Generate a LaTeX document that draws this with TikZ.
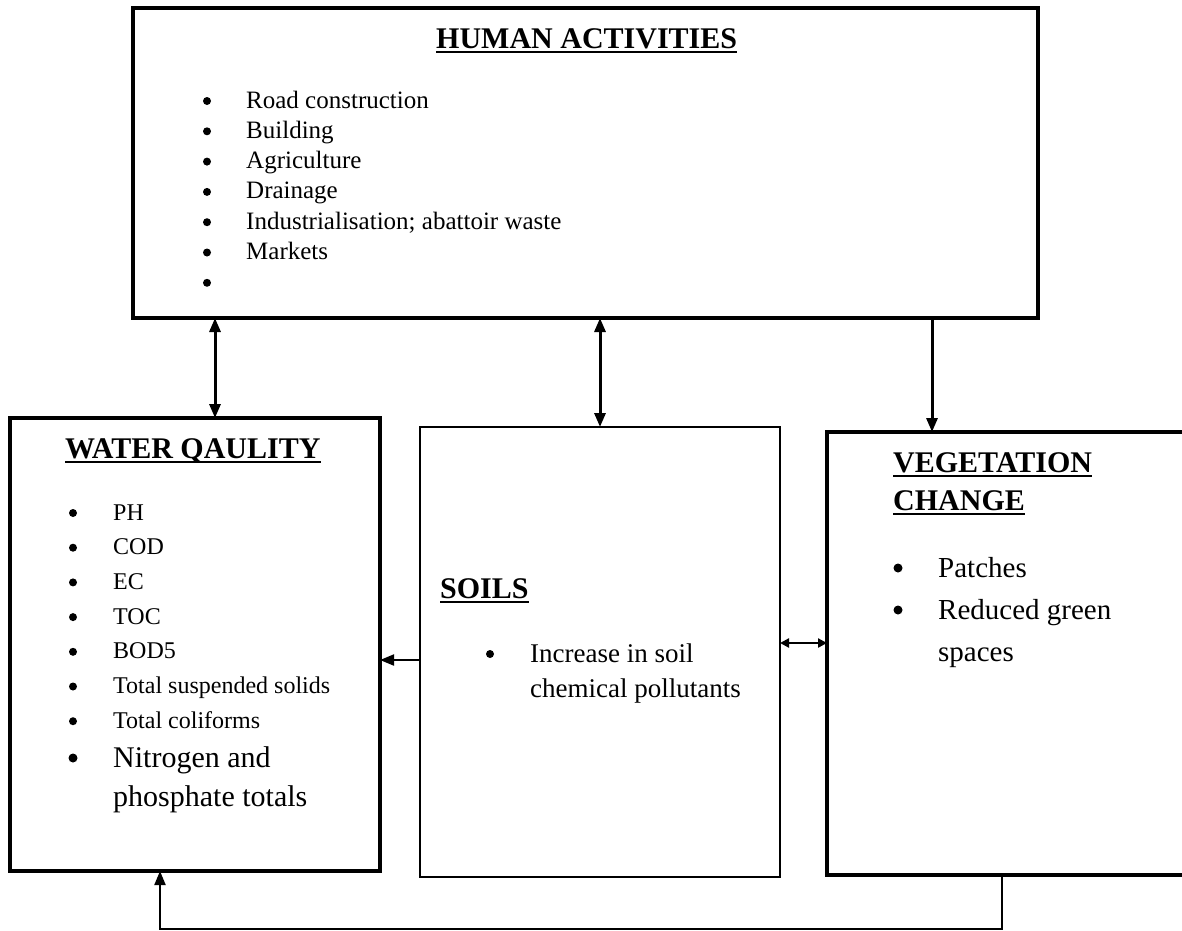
\documentclass[tikz,border=0pt]{standalone}
\usepackage{fontspec}
\setmainfont{Liberation Serif}
\usetikzlibrary{arrows.meta,positioning}

% underline with a thick rule
\newcommand{\ulword}[1]{\setbox0\hbox{#1}\rlap{\rule[-5pt]{\wd0}{2pt}}\box0}

\tikzset{
  panel/.style={draw, rectangle, anchor=north west, inner sep=0pt, outer sep=0pt},
  heading/.style={anchor=base west, inner sep=0pt, font=\fontsize{30}{38}\selectfont\bfseries},
  item/.style={anchor=base west, inner sep=0pt},
  bulletdot/.style={circle, fill, inner sep=0pt, minimum size=#1},
  bulletdot/.default=8pt,
  link/.style={line width=3pt, -{Triangle[length=14pt,width=11pt]}},
  twolink/.style={line width=3pt, {Triangle[length=14pt,width=11pt]}-{Triangle[length=14pt,width=11pt]}},
}

\begin{document}
\begin{tikzpicture}[x=1pt,y=-1pt]
\useasboundingbox (0,0) rectangle (1182,930);

% boxes
\node[panel, line width=4pt, minimum width=905pt, minimum height=310pt] (human) at (133,8) {};
\node[panel, line width=3.5pt, minimum width=370pt, minimum height=453pt] (water) at (10,418) {};
\node[panel, line width=2.5pt, minimum width=360pt, minimum height=450pt] (soils) at (420,427) {};
\node[panel, line width=3.5pt, minimum width=380pt, minimum height=443pt] (veg) at (827,432) {};

% human activities
\node[heading] (humantitle) at (436,48) {\ulword{HUMAN ACTIVITIES}};
\foreach \txt [count=\i from 0] in {Road construction,Building,Agriculture,Drainage,
    Industrialisation; abattoir waste,Markets,{}} {
  \node[bulletdot] (hdot\i) at (207,{101+30.3*\i}) {};
  \node[item, font=\fontsize{25}{30}\selectfont] (hact\i) at (246,{108+30.3*\i}) {\txt};
}

% water quality
\node[heading] (watertitle) at (65,458) {\ulword{WATER QAULITY}};
\foreach \txt [count=\i from 0] in {PH,COD,EC,TOC,BOD5,Total suspended solids,Total coliforms} {
  \node[bulletdot] (wdot\i) at (73,{513+34.7*\i}) {};
  \node[item, font=\fontsize{24}{30}\selectfont] (wpar\i) at (113,{520+34.7*\i}) {\txt};
}
\node[bulletdot=9pt] (nitrodot) at (73,758) {};
\node[item, font=\fontsize{30}{36}\selectfont] (nitro) at (113,767) {Nitrogen and};
\node[item, font=\fontsize{30}{36}\selectfont] (phos) at (113,806) {phosphate totals};

% soils
\node[heading] (soiltitle) at (440,598) {\ulword{SOILS}};
\node[bulletdot] (soildot) at (490,654) {};
\node[item, font=\fontsize{27}{32}\selectfont] (soilinc) at (530,662) {Increase in soil};
\node[item, font=\fontsize{27}{32}\selectfont] (soilchem) at (530,697) {chemical pollutants};

% vegetation change
\node[heading] (vegtitle) at (893,472) {\ulword{VEGETATION}};
\node[heading] (vegtitle2) at (893,510) {\ulword{CHANGE}};
\node[bulletdot=9pt] (vdot1) at (898,568) {};
\node[bulletdot=9pt] (vdot2) at (898,610) {};
\node[item, font=\fontsize{29}{34}\selectfont] (patch) at (938,577) {Patches};
\node[item, font=\fontsize{29}{34}\selectfont] (green) at (938,619) {Reduced green};
\node[item, font=\fontsize{29}{34}\selectfont] (space) at (938,661) {spaces};

% connectors
\draw[twolink] (water.north -| 215,0) -- (human.south -| 215,0);
\draw[twolink] (soils.north) -- (soils.north |- human.south);
\draw[link] (human.south -| 932,0) -- (veg.north -| 932,0);
\draw[link, line width=2pt] (soils.west |- 0,660) -- (water.east |- 0,660);
\draw[line width=2.5pt, {Triangle[length=9pt,width=9pt]}-{Triangle[length=9pt,width=9pt]}]
  (soils.east |- 0,643) -- (veg.west |- 0,643);
\draw[link, line width=2pt] (veg.south -| 1002,0) -- ++(0,54) -| (water.south -| 160,0);
\end{tikzpicture}
\end{document}
